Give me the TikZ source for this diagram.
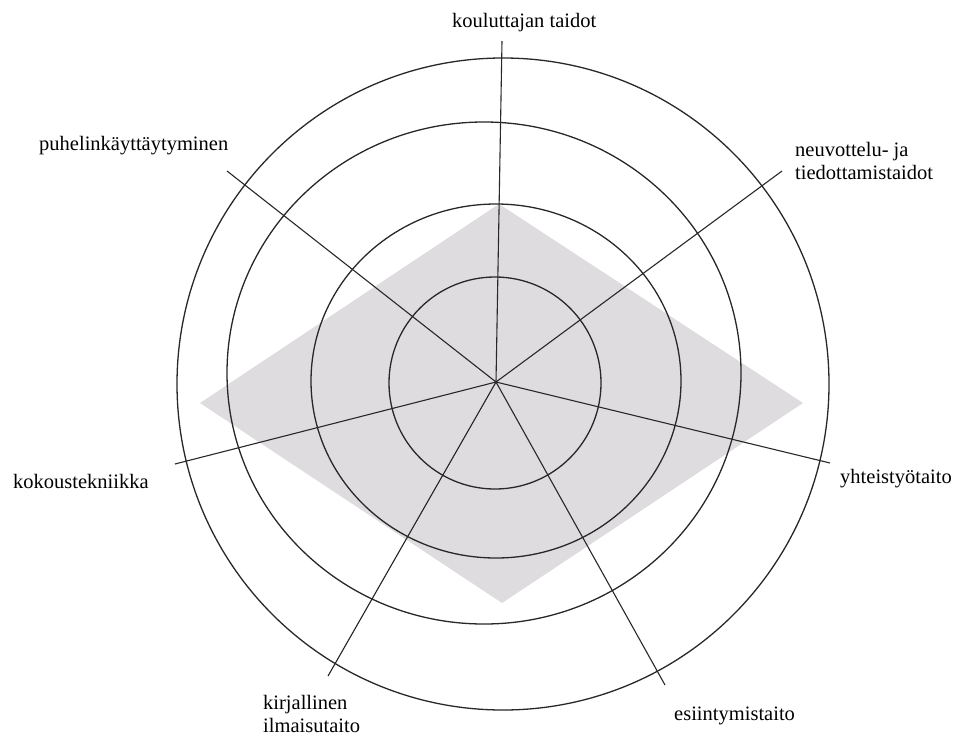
\documentclass[tikz,border=0pt]{standalone}
\usepackage{fontspec}
\setmainfont{Liberation Serif}
\definecolor{linec}{RGB}{40,40,40}
\definecolor{fillg}{RGB}{222,220,222}
\begin{document}
\begin{tikzpicture}[x=1pt,y=-1pt,
  ring/.style={draw=linec, line width=1.3pt},
  spoke/.style={draw=linec, line width=1.1pt},
  lab/.style={font=\fontsize{20.5}{23}\selectfont, inner sep=0pt, align=left, text=black}]
\useasboundingbox (0,0) rectangle (957,736);
\fill[fillg] (499,204) -- (803,403) -- (502,603) -- (200,403) -- cycle;
\draw[ring] (495,383) ellipse [x radius=106, y radius=106];
\draw[ring] (496,381) ellipse [x radius=185, y radius=177];
\draw[ring] (484,373) ellipse [x radius=257, y radius=251];
\draw[ring] (503,384) ellipse [x radius=326, y radius=326];
\coordinate (c) at (496,382);
\coordinate (e1) at (502,41);
\coordinate (e2) at (782,171);
\coordinate (e3) at (830,463);
\coordinate (e4) at (665,685);
\coordinate (e5) at (328,676);
\coordinate (e6) at (175,464);
\coordinate (e7) at (227,171);
\foreach \i in {1,...,7} \draw[spoke] (c) -- (e\i);
\node[lab, anchor=base west] (l1) at (452,27) {kouluttajan taidot};
\node[lab, anchor=north west] (l2) at (795,142) {neuvottelu- ja\\tiedottamistaidot};
\node[lab, anchor=base west] (l3) at (840,483) {yhteistyötaito};
\node[lab, anchor=base west] (l4) at (674,720) {esiintymistaito};
\node[lab, anchor=north west] (l5) at (263,695) {kirjallinen\\ilmaisutaito};
\node[lab, anchor=base west] (l6) at (13,488) {kokoustekniikka};
\node[lab, anchor=base west] (l7) at (39,150) {puhelinkäyttäytyminen};
\end{tikzpicture}
\end{document}
